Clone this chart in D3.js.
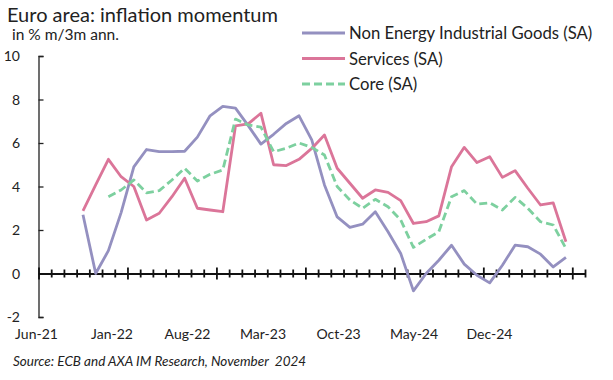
<!DOCTYPE html>
<html>
<head>
<meta charset="utf-8">
<script src="https://cdnjs.cloudflare.com/ajax/libs/d3/7.8.5/d3.min.js"></script>
<style>
  body { margin: 0; background: #fff; }
  svg { display: block; font-family: Lato, 'Open Sans', sans-serif; }
</style>
</head>
<body>
<svg id="chart" width="613" height="380"></svg>
<script>
// monthly categories, Jun-21 .. Dec-24
const months = ['Jun-21','Jul-21','Aug-21','Sep-21','Oct-21','Nov-21','Dec-21',
  'Jan-22','Feb-22','Mar-22','Apr-22','May-22','Jun-22','Jul-22','Aug-22','Sep-22','Oct-22','Nov-22','Dec-22',
  'Jan-23','Feb-23','Mar-23','Apr-23','May-23','Jun-23','Jul-23','Aug-23','Sep-23','Oct-23','Nov-23','Dec-23',
  'Jan-24','Feb-24','Mar-24','Apr-24','May-24','Jun-24','Jul-24','Aug-24','Sep-24','Oct-24','Nov-24','Dec-24']

const tickLabels = ['Jun-21','Jan-22','Aug-22','Mar-23','Oct-23','May-24','Dec-24']
const yTicks = [-2, 0, 2, 4, 6, 8, 10]

// values start Sep-21, end Nov-24
const firstMonth = 'Sep-21'
const neig = [2.7, 0.0, 1.05, 2.8, 4.9, 5.7, 5.6, 5.6, 5.62, 6.27, 7.25, 7.68, 7.6, 6.8, 5.95, 6.4, 6.9, 7.25,
  6.14, 4.07, 2.6, 2.12, 2.27, 2.84, 1.92, 0.92, -0.8, 0.0, 0.61, 1.3, 0.43, -0.08, -0.43, 0.38, 1.3, 1.23, 0.89, 0.3, 0.74]
const services = [2.88, 4.07, 5.25, 4.45, 4.0, 2.46, 2.77, 3.53, 4.38, 3.0, 2.92, 2.84, 6.79, 6.88, 7.37, 5.0, 4.96, 5.25,
  5.75, 6.37, 4.84, 4.15, 3.46, 3.84, 3.73, 3.35, 2.3, 2.38, 2.65, 4.91, 5.8, 5.1, 5.37, 4.42, 4.73, 3.92, 3.15, 3.25, 1.46]
const core = [null, null, 3.53, 3.84, 4.3, 3.71, 3.81, 4.3, 4.84, 4.25, 4.56, 4.76, 7.1, 6.83, 6.73, 5.6, 5.76, 6.0,
  5.8, 5.45, 4.0, 3.38, 3.0, 3.41, 3.07, 2.46, 1.2, 1.57, 1.92, 3.53, 3.81, 3.19, 3.25, 2.92, 3.5, 3.0, 2.38, 2.23, 1.15]

const series = [
  {name: 'Non Energy Industrial Goods (SA)', values: neig, color: '#9490c0', dash: null},
  {name: 'Services (SA)', values: services, color: '#db7599', dash: null},
  {name: 'Core (SA)', values: core, color: '#7dd09f', dash: '8,4'}
]

const svg = d3.select('#chart')

// x: band boundaries on a linear month index, points at band centres
const x = d3.scaleLinear().domain([0, months.length]).range([38.5, 585])
const y = d3.scaleLinear().domain([-2, 10]).range([317, 56])
const xLab = d3.scalePoint().domain(tickLabels).range([36, 489])

const start = months.indexOf(firstMonth)

// title block
svg.append('text').attr('x', 7).attr('y', 22)
  .style('font-size', '20px').attr('fill', '#222')
  .text('Euro area: inflation momentum')
svg.append('text').attr('x', 12).attr('y', 40)
  .style('font-size', '15.5px').attr('fill', '#222')
  .text('in % m/3m ann.')

// y axis
const yAxis = svg.append('g')
  .attr('transform', `translate(${x(0)},0)`)
  .call(d3.axisRight(y).tickValues(yTicks).tickSize(5).tickFormat(''))
yAxis.select('.domain').attr('stroke', '#222').attr('stroke-width', 1.3)
yAxis.selectAll('.tick line').attr('stroke', '#222').attr('stroke-width', 1.3)

svg.append('g').selectAll('text')
  .data(yTicks)
  .join('text')
  .attr('x', 20).attr('y', d => y(d) + 5)
  .attr('text-anchor', 'end')
  .style('font-size', '14px').attr('fill', '#222')
  .text(d => d)

// x axis at zero, ticks crossing the line
const xAxis = svg.append('g')
  .attr('transform', `translate(0,${y(0)})`)
  .call(d3.axisBottom(x).tickValues(d3.range(0, months.length + 1)).tickSize(0).tickFormat(''))
xAxis.select('.domain').attr('stroke', '#111').attr('stroke-width', 2)
xAxis.selectAll('.tick line')
  .attr('y1', d => d % 7 === 0 ? -6 : -4)
  .attr('y2', d => d % 7 === 0 ? 6 : 4)
  .attr('stroke', '#111').attr('stroke-width', 1.8)

// category labels along the bottom
const labAxis = svg.append('g')
  .attr('transform', 'translate(0,329)')
  .call(d3.axisBottom(xLab).tickSize(0).tickPadding(0))
labAxis.select('.domain').remove()
labAxis.selectAll('text')
  .style('font-size', '14px').style('font-family', 'Lato, sans-serif').attr('fill', '#222')

// lines
const line = d3.line()
  .defined(d => d.v != null)
  .x(d => x(d.i + 0.5))
  .y(d => y(d.v))

series.forEach(s => {
  const pts = s.values.map((v, k) => ({i: start + k, v}))
  svg.append('path')
    .datum(pts)
    .attr('fill', 'none')
    .attr('stroke', s.color)
    .attr('stroke-width', 2.8)
    .attr('stroke-dasharray', s.dash)
    .attr('stroke-linejoin', 'round')
    .attr('d', line)
})

// legend
const legend = svg.append('g').attr('transform', 'translate(302,33)')
const rows = legend.selectAll('g')
  .data(series)
  .join('g')
  .attr('transform', (d, i) => `translate(0,${i * 25.5})`)
rows.append('line')
  .attr('x1', 0).attr('x2', 43)
  .attr('stroke', d => d.color).attr('stroke-width', 2.8)
  .attr('stroke-dasharray', d => d.dash)
rows.append('text')
  .attr('x', 47).attr('y', 6)
  .style('font-size', '16.7px').attr('fill', '#222')
  .text(d => d.name)

// source
svg.append('text').attr('x', 13).attr('y', 366)
  .style('font-size', '13.5px').style('font-style', 'italic').attr('fill', '#222')
  .text('Source: ECB and AXA IM Research, November  2024')
  .attr('xml:space', 'preserve')
</script>
</body>
</html>
